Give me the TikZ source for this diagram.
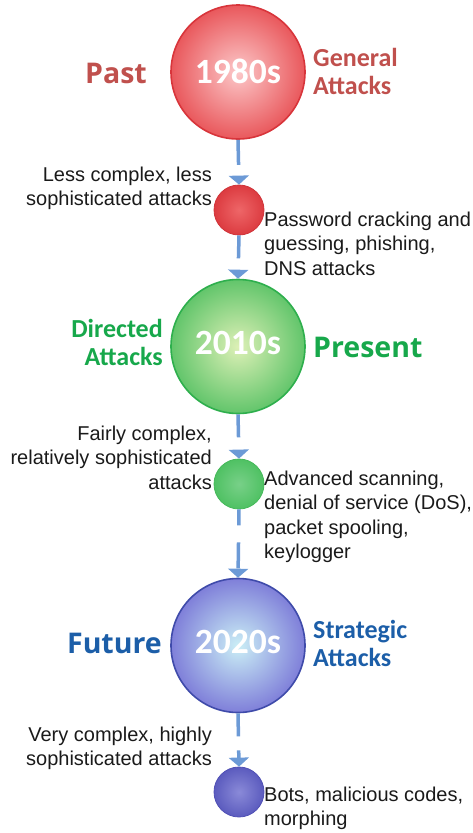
\documentclass[tikz,border=0pt]{standalone}
\usepackage{fontspec}
\setmainfont{Liberation Sans}
\newfontfamily\headfont{Open Sans}
\newfontfamily\calfont{Carlito}
\usetikzlibrary{arrows.meta}
\definecolor{redtxt}{HTML}{C0504D}
\definecolor{greentxt}{HTML}{17A84B}
\definecolor{bluetxt}{HTML}{1C5EA8}
\definecolor{connblue}{HTML}{6C9AD6}
\definecolor{txtgray}{HTML}{1A1A1A}
\begin{document}
\begin{tikzpicture}[x=1pt,y=-1pt,
  bigc/.style={circle, minimum size=134pt, inner sep=0pt, line width=1.6pt},
  smallc/.style={circle, minimum size=50pt, inner sep=0pt, line width=0.8pt},
  body/.style={inner sep=0pt, text=txtgray, font=\fontsize{20}{24.5}\selectfont},
  era/.style={inner sep=0pt, font=\headfont\bfseries\fontsize{28.5}{30}\selectfont},
  kind/.style={inner sep=0pt, font=\calfont\bfseries\fontsize{26}{27.5}\selectfont},
  yr/.style={inner sep=0pt, text=white, font=\calfont\bfseries\fontsize{35.5}{37}\selectfont},
  conn/.style={draw=connblue, line width=3.5pt, -{Triangle[width=20pt,length=9pt]}}
]
\useasboundingbox (0,0) rectangle (472,833);

% circles
\node[bigc, shade, inner color={rgb,255:red,252;green,200;blue,201}, outer color={rgb,255:red,233;green,88;blue,92}, draw={rgb,255:red,216;green,53;blue,59}] (big1) at (238,72) {};
\node[smallc, shade, inner color={rgb,255:red,238;green,102;blue,104}, outer color={rgb,255:red,220;green,59;blue,64}, draw={rgb,255:red,208;green,52;blue,58}] (small1) at (239,210) {};
\node[bigc, shade, inner color={rgb,255:red,221;green,240;blue,182}, outer color={rgb,255:red,98;green,197;blue,107}, draw={rgb,255:red,46;green,175;blue,77}] (big2) at (238,346.5) {};
\node[smallc, shade, inner color={rgb,255:red,120;green,208;blue,136}, outer color={rgb,255:red,79;green,193;blue,99}, draw={rgb,255:red,69;green,185;blue,90}] (small2) at (239,484) {};
\node[bigc, shade, inner color={rgb,255:red,203;green,239;blue,246}, outer color={rgb,255:red,127;green,127;blue,217}, draw={rgb,255:red,63;green,75;blue,170}] (big3) at (238,645.5) {};
\node[smallc, shade, inner color={rgb,255:red,138;green,138;blue,216}, outer color={rgb,255:red,91;green,91;blue,190}, draw={rgb,255:red,80;green,80;blue,181}] (small3) at (239,792) {};

% years
\node[yr, anchor=base] (y1) at (238,83.5) {1980s};
\node[yr, anchor=base] (y2) at (238,354.5) {2010s};
\node[yr, anchor=base] (y3) at (238,653.5) {2020s};

% connectors
\draw[conn, dash pattern=on 25pt off 40pt] (big1.south) -- (small1.north);
\draw[conn, dash pattern=on 23pt off 40pt] (small1.south) -- (big2.north);
\draw[conn, dash pattern=on 23pt off 40pt] (big2.south) -- (small2.north);
\draw[conn, dash pattern=on 16pt off 17pt on 26pt off 40pt] (small2.south) -- (big3.north);
\draw[conn, dash pattern=on 23pt off 14pt on 30pt off 40pt] (big3.south) -- (small3.north);

% era labels
\node[era, text=redtxt, anchor=base east] (past) at (147,83) {Past};
\node[era, text=greentxt, anchor=base west] (present) at (313,357) {Present};
\node[era, text=bluetxt, anchor=base east] (future) at (162,653) {Future};

% attack kinds
\node[kind, text=redtxt, anchor=north west, align=left] (general) at (313,48.5) {General\\Attacks};
\node[kind, text=greentxt, anchor=north east, align=right] (directed) at (163,319.5) {Directed\\Attacks};
\node[kind, text=bluetxt, anchor=north west, align=left] (strategic) at (313,620.5) {Strategic\\Attacks};

% descriptions
\node[body, anchor=north east, align=right] (d1) at (212,166.5) {Less complex, less\\sophisticated attacks};
\node[body, anchor=north west, align=left] (e1) at (264,211.5) {Password cracking and\\guessing, phishing,\\DNS attacks};
\node[body, anchor=north east, align=right] (d2) at (212,425.5) {Fairly complex,\\relatively sophisticated\\attacks};
\node[body, anchor=north west, align=left] (e2) at (264,470.5) {Advanced scanning,\\denial of service (DoS),\\packet spooling,\\keylogger};
\node[body, anchor=north east, align=right] (d3) at (212,726.5) {Very complex, highly\\sophisticated attacks};
\node[body, anchor=north west, align=left] (e3) at (264,786.5) {Bots, malicious codes,\\morphing};
\end{tikzpicture}
\end{document}
